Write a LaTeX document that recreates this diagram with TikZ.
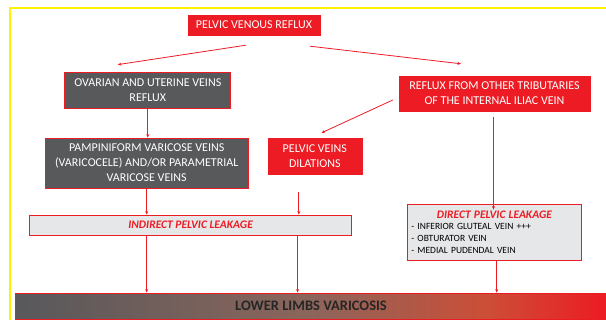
\documentclass[tikz,border=0pt]{standalone}
\usepackage{fontspec}
\setmainfont{Carlito}
\usepackage{tikz}
\usetikzlibrary{calc}
\usetikzlibrary{arrows.meta}
\definecolor{flagred}{RGB}{237, 28, 36}
\definecolor{slate}{RGB}{88, 89, 91}
\definecolor{mist}{RGB}{230, 231, 232}
\definecolor{lemon}{RGB}{255, 242, 0}
\tikzset{
  redbox/.style={fill=flagred, draw=flagred, text=white, align=center, inner sep=0pt,
                 font=\fontsize{12}{15}\selectfont},
  greybox/.style={fill=slate, draw=flagred, line width=0.8pt, text=white, align=center, inner sep=0pt,
                  font=\fontsize{12}{15}\selectfont},
  leakbox/.style={fill=mist, draw=flagred, line width=0.8pt, inner sep=0pt},
  flow/.style={flagred, line width=0.8pt, -{Stealth[length=3.5pt,width=3pt]}}
}
\begin{document}
\begin{tikzpicture}[x=1pt, y=-1pt]
            \useasboundingbox (0,0) rectangle (606,320);
            % Frame
            \draw[lemon, line width=1.6pt]                                   (10,320) -- (10,8) -- (606,8);
            % Gradient band: grey -> brown -> rust -> red
            \foreach \i in {0,...,117} {
              \pgfmathsetmacro\t{(\i+0.5)/118}
              \pgfmathtruncatemacro\rr{ifthenelse(\t<0.5, 88+104*\t, ifthenelse(\t<0.8, 140+216.67*(\t-0.5), 205+160*(\t-0.8)))}
              \pgfmathtruncatemacro\gg{ifthenelse(\t<0.5, 89+26*\t,  ifthenelse(\t<0.8, 102-80*(\t-0.5),     78-250*(\t-0.8)))}
              \pgfmathtruncatemacro\bb{ifthenelse(\t<0.5, 91+2*\t,   ifthenelse(\t<0.8, 92-123.33*(\t-0.5),  55-95*(\t-0.8)))}
              \definecolor{stripc}{RGB}{\rr,\gg,\bb}
              \fill[stripc] (15.5+\i*5.0085,293) rectangle ++(5.6,26);
            }
            % Boxes
            \node[redbox,  minimum width=132, minimum height=20] (title)     at (254.0, 25.0) {PELVIC VENOUS REFLUX};
            \node[greybox, minimum width=166, minimum height=36] (ovarian)   at (147.8, 90.0) {OVARIAN AND UTERINE VEINS\\REFLUX};
            \node[redbox,  minimum width=191, minimum height=35] (tribs)     at (494.5, 93.5) {REFLUX FROM OTHER TRIBUTARIES\\OF THE INTERNAL ILIAC VEIN};
            \node[greybox, minimum width=203, minimum height=50] (pampin)    at (146.7,163.0) {PAMPINIFORM VARICOSE VEINS\\(VARICOCELE) AND/OR PARAMETRIAL\\VARICOSE VEINS};
            \node[redbox,  minimum width=94,  minimum height=36] (dilation)  at (314.8,156.0) {PELVIC VEINS\\DILATIONS};
            \node[leakbox, minimum width=321.6, minimum height=20,
                  font=\fontsize{11.5}{12}\selectfont\bfseries\itshape, text=flagred] (indirect) at (190.6,225.0) {INDIRECT PELVIC LEAKAGE};
            \node[leakbox, minimum width=174.7, minimum height=56, text width=166, align=left,
                  font=\fontsize{9.5}{11.6}\selectfont] (direct) at (494.4,232.0)
                 {\makebox[166pt][c]{\fontsize{11.5}{12}\selectfont\bfseries\itshape\color{flagred}DIRECT PELVIC LEAKAGE}\\
                  - INFERIOR GLUTEAL VEIN +++\\- OBTURATOR VEIN\\- MEDIAL PUDENDAL VEIN};
            \node[draw=flagred, line width=0.8pt,
                  minimum width=591, minimum height=26, inner sep=0pt,
                  font=\fontsize{14.5}{15}\selectfont\bfseries, text={black!85}] (limbs) at (311.0,306.0) {LOWER LIMBS VARICOSIS};
            % Reflux branches
            \draw[flow] ([shift={(-8.2,10)}]title.south)   -- ([shift={(-29.9,-7)}]ovarian.north);
            \draw[flow] ([shift={(56,11)}]title.south)     -- ([shift={(-33.5,-12)}]tribs.north);
            \draw[flow] (ovarian.south)                    -- (ovarian.south |- pampin.north);
            \draw[flow] ([shift={(-6,6.5)}]tribs.west)     -- ([shift={(6.8,-5)}]dilation.north);
            \draw[flow] ([shift={(-1,6)}]tribs.south)      -- ([shift={(-1,6)}]tribs.south |- direct.north);
            % Leakage
            \draw[flow] (pampin.south)                     -- (pampin.south |- indirect.north);
            \coordinate (dil) at ([shift={(-16,18)}]dilation.south);
            \draw[flow] (dil)                              -- (dil |- indirect.north);
            % Lower limbs
            \draw[flow] (indirect.south -| pampin.south)   -- (pampin.south |- limbs.north);
            \draw[flow] ([xshift=-1.2pt]indirect.south -| dil) -- ([xshift=-1.2pt]dil |- limbs.north);
            \draw[flow] ([xshift=2.3pt]direct.south)       -- ([xshift=2.3pt]direct.south |- limbs.north);
        \end{tikzpicture}
\end{document}
